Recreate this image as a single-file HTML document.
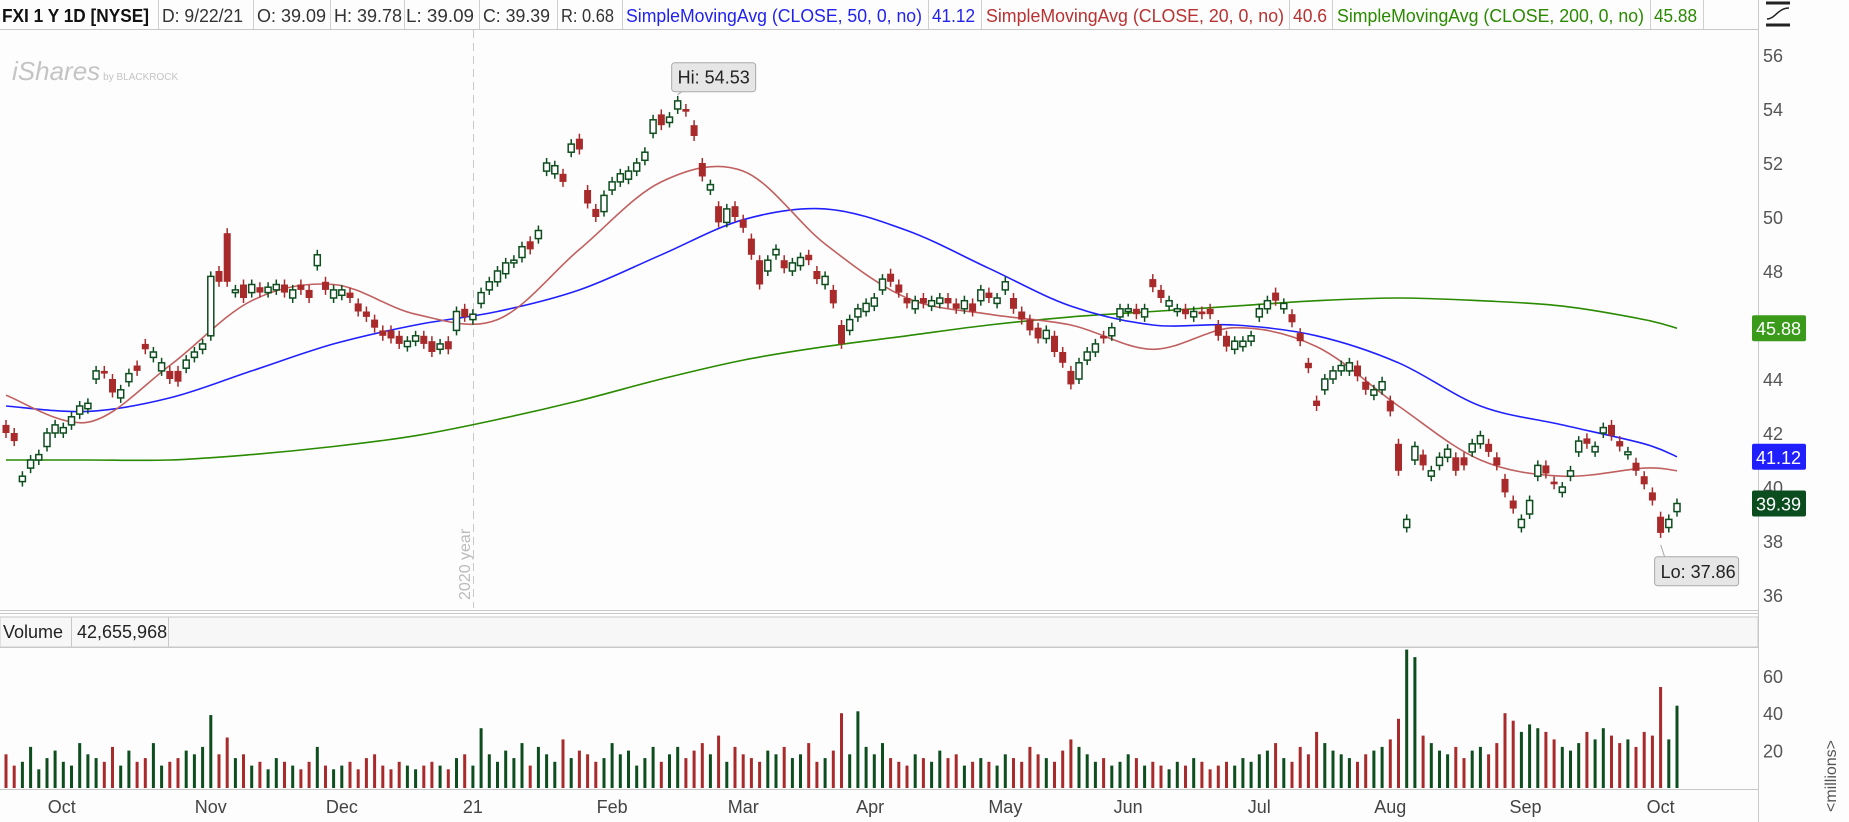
<!DOCTYPE html>
<html><head><meta charset="utf-8"><style>
html,body{margin:0;padding:0;background:#fdfdfd;}
svg{display:block;font-family:"Liberation Sans",sans-serif;}
</style></head><body>
<svg id="chart" width="1849" height="822" viewBox="0 0 1849 822" xmlns="http://www.w3.org/2000/svg">
<rect x="0" y="0" width="1849" height="822" fill="#fdfdfd"/>
<g id="header" font-size="18" lengthAdjust="spacingAndGlyphs">
  <text x="2" y="22" font-weight="bold" fill="#111" textLength="147" lengthAdjust="spacingAndGlyphs">FXI 1 Y 1D [NYSE]</text>
  <text x="162" y="22" fill="#333" textLength="81" lengthAdjust="spacingAndGlyphs">D: 9/22/21</text>
  <text x="257" y="22" fill="#333" textLength="69" lengthAdjust="spacingAndGlyphs">O: 39.09</text>
  <text x="334" y="22" fill="#333" textLength="68" lengthAdjust="spacingAndGlyphs">H: 39.78</text>
  <text x="406" y="22" fill="#333" textLength="68" lengthAdjust="spacingAndGlyphs">L: 39.09</text>
  <text x="483" y="22" fill="#333" textLength="67" lengthAdjust="spacingAndGlyphs">C: 39.39</text>
  <text x="561" y="22" fill="#333" textLength="53" lengthAdjust="spacingAndGlyphs">R: 0.68</text>
  <text x="626" y="22" fill="#2222ee" textLength="296" lengthAdjust="spacingAndGlyphs">SimpleMovingAvg (CLOSE, 50, 0, no)</text>
  <text x="932" y="22" fill="#2222ee" textLength="43" lengthAdjust="spacingAndGlyphs">41.12</text>
  <text x="986" y="22" fill="#b83232" textLength="298" lengthAdjust="spacingAndGlyphs">SimpleMovingAvg (CLOSE, 20, 0, no)</text>
  <text x="1293" y="22" fill="#b83232" textLength="34" lengthAdjust="spacingAndGlyphs">40.6</text>
  <text x="1337" y="22" fill="#2a8a00" textLength="307" lengthAdjust="spacingAndGlyphs">SimpleMovingAvg (CLOSE, 200, 0, no)</text>
  <text x="1654" y="22" fill="#2a8a00" textLength="43" lengthAdjust="spacingAndGlyphs">45.88</text>
  <line x1="0" y1="29.5" x2="1758" y2="29.5" stroke="#c8c8c8"/>
  <g stroke="#d0d0d0">
    <line x1="158.5" y1="0" x2="158.5" y2="29"/><line x1="253.5" y1="0" x2="253.5" y2="29"/>
    <line x1="330.5" y1="0" x2="330.5" y2="29"/><line x1="404.5" y1="0" x2="404.5" y2="29"/>
    <line x1="479.5" y1="0" x2="479.5" y2="29"/><line x1="557.5" y1="0" x2="557.5" y2="29"/>
    <line x1="622.5" y1="0" x2="622.5" y2="29"/><line x1="928.5" y1="0" x2="928.5" y2="29"/>
    <line x1="981.5" y1="0" x2="981.5" y2="29"/><line x1="1289.5" y1="0" x2="1289.5" y2="29"/>
    <line x1="1332.5" y1="0" x2="1332.5" y2="29"/><line x1="1650.5" y1="0" x2="1650.5" y2="29"/>
    <line x1="1703.5" y1="0" x2="1703.5" y2="29"/>
  </g>
  <g stroke="#222" stroke-width="3" fill="none">
    <line x1="1766" y1="3" x2="1790" y2="3"/><line x1="1766" y1="25" x2="1790" y2="25"/>
    <path d="M1767 19 C1775 19,1778 8,1789 8" stroke-width="1.5"/>
  </g>
</g>
<text x="12" y="80" font-size="26" fill="#c4c4c4" font-style="italic">iShares<tspan font-size="10" font-style="normal" dx="3">by BLACKROCK</tspan></text>
<line x1="1758.5" y1="0" x2="1758.5" y2="822" stroke="#c8c8c8"/>
<line x1="473.5" y1="30" x2="473.5" y2="608" stroke="#c8c8c8" stroke-dasharray="8,5"/>
<text transform="translate(470,600) rotate(-90)" font-size="16" fill="#bbb">2020 year</text>
<g stroke="#c8c8c8">
  <line x1="0" y1="610.5" x2="1758" y2="610.5"/><line x1="0" y1="613.5" x2="1758" y2="613.5"/>
  <rect x="0" y="617" width="1758" height="30" fill="#f7f7f7"/>
  <line x1="0" y1="647.5" x2="1758" y2="647.5"/>
  <line x1="0" y1="789.5" x2="1758" y2="789.5"/>
</g>
<text x="3" y="638" font-size="18" fill="#222">Volume</text>
<line x1="71.5" y1="617" x2="71.5" y2="647" stroke="#c8c8c8"/>
<text x="77" y="638" font-size="18" fill="#222">42,655,968</text>
<line x1="168.5" y1="617" x2="168.5" y2="647" stroke="#c8c8c8"/>
<text transform="translate(1836,812) rotate(-90)" font-size="16" fill="#555">&lt;millions&gt;</text>
<g id="axes"></g>
<g id="smas"></g>
<g id="vols"></g>
<g id="candles"></g>
<g id="badges"></g>
</svg>
<script>
const closes=[42.0,41.7,40.4,41.0,41.2,42.0,42.3,42.2,42.6,43.0,
43.1,44.3,44.2,43.5,43.6,44.2,44.3,45.1,45.0,44.6,
44.0,43.9,44.7,45.0,45.3,47.8,47.6,47.6,47.3,47.0,
47.5,47.2,47.4,47.5,47.2,47.3,47.3,47.0,48.6,47.3,
47.3,47.3,47.0,46.5,46.3,45.9,45.6,45.5,45.3,45.4,
45.6,45.3,45.0,45.3,45.1,46.5,46.3,46.4,47.2,47.6,
48.0,48.3,48.4,48.9,48.8,49.5,52.0,51.9,51.3,52.7,
52.5,50.5,50.0,50.8,51.3,51.6,51.7,52.0,52.4,53.6,
53.4,53.7,54.3,53.9,53.0,51.5,51.2,49.8,50.3,50.0,
49.6,48.6,47.5,48.4,48.8,48.1,48.3,48.5,48.4,47.7,
47.8,46.8,45.3,46.2,46.6,46.8,47.0,47.7,47.6,47.2,
46.8,46.9,46.8,46.9,47.0,46.8,46.6,46.9,46.5,47.3,
47.0,47.0,47.6,46.6,46.2,45.8,45.5,45.8,45.0,44.6,
43.8,44.6,45.0,45.3,45.5,45.9,46.6,46.6,46.4,46.6,
47.4,47.0,46.9,46.6,46.4,46.5,46.4,46.4,45.6,45.2,
45.4,45.4,45.6,46.6,46.9,46.9,46.8,46.1,45.4,44.4,
43.0,44.0,44.3,44.5,44.6,44.1,43.6,43.6,43.9,42.8,
40.6,38.8,41.5,40.8,40.6,41.1,41.4,40.6,40.8,41.6,
41.9,41.3,40.8,39.8,39.2,38.8,39.5,40.8,40.5,40.1,
40.0,40.6,41.7,41.6,41.5,42.2,41.9,41.5,41.3,40.6,
40.1,39.5,38.3,38.8,39.39];
const opens=[42.3,42.0,40.2,40.7,41.0,41.5,42.0,42.0,42.3,42.7,
42.9,44.0,44.3,44.0,43.3,43.9,44.5,45.3,44.8,44.3,
44.3,44.3,44.4,44.8,45.1,45.6,48.0,49.4,47.2,47.5,
47.2,47.4,47.2,47.3,47.5,47.0,47.5,47.3,48.2,47.6,
47.0,47.1,47.2,46.8,46.5,46.2,45.8,45.8,45.6,45.2,
45.4,45.6,45.4,45.1,45.4,45.8,46.6,46.2,46.8,47.3,
47.6,47.9,48.3,48.5,49.1,49.2,51.7,51.6,51.6,52.4,
52.9,51.0,50.3,50.2,51.0,51.3,51.4,51.7,52.1,53.1,
53.8,53.5,54.0,54.0,53.4,52.0,51.0,50.4,49.8,50.4,
49.9,49.2,48.4,48.0,48.6,48.4,48.0,48.2,48.6,48.0,
47.5,47.3,46.0,45.8,46.3,46.5,46.7,47.3,47.9,47.5,
47.0,46.6,47.0,46.7,46.8,47.0,46.8,46.6,46.8,46.9,
47.2,46.8,47.3,47.0,46.5,46.2,45.9,45.5,45.6,45.0,
44.3,44.0,44.7,45.0,45.6,45.6,46.3,46.5,46.6,46.3,
47.7,47.3,46.7,46.5,46.6,46.3,46.5,46.6,46.0,45.6,
45.1,45.2,45.4,46.3,46.6,47.2,46.6,46.4,45.7,44.6,
43.2,43.6,44.0,44.3,44.3,44.5,43.9,43.4,43.6,43.2,
41.6,38.5,41.0,41.2,40.4,40.8,41.1,41.1,41.1,41.3,
41.6,41.6,41.1,40.3,39.5,38.5,39.0,40.4,40.8,40.2,
39.8,40.4,41.3,41.8,41.3,42.0,42.3,41.7,41.2,40.9,
40.4,39.8,38.9,38.5,39.09];
const volumes=[18,12,14,22,10,16,20,14,12,24,
18,16,14,22,12,20,14,16,24,12,
14,16,20,18,22,39,18,27,16,18,
12,14,10,16,14,12,10,14,22,12,
10,12,14,10,16,18,12,10,14,12,
10,12,14,12,10,16,18,12,32,18,
14,20,16,24,12,22,18,14,26,16,
20,18,14,16,24,18,20,12,16,22,
14,18,22,16,20,24,18,28,14,22,
18,16,14,20,18,22,16,18,24,14,
16,20,40,18,41,22,18,24,16,14,
12,18,16,14,20,16,18,12,14,16,
14,12,18,16,14,22,18,16,14,20,
26,22,18,14,16,12,14,18,16,12,
14,12,10,14,12,16,14,10,12,14,
12,16,14,18,20,24,16,14,22,18,
30,24,20,18,16,14,18,20,22,26,
37,74,70,28,24,20,18,22,16,20,
22,18,24,40,36,30,34,32,30,26,
22,20,24,30,26,32,28,24,26,22,
30,28,54,26,44];
const smaIndex=[0,10,20,30,40,50,60,70,80,90,100,110,120,130,140,150,160,170,180,190,200,204];
const sma20=[43.4,42.4,44.5,46.9,47.5,46.4,46.2,48.8,51.3,51.7,49.0,47.0,46.4,46.0,45.1,45.9,45.2,43.0,41.0,40.4,40.7,40.6];
const sma50=[43.0,42.8,43.3,44.3,45.3,46.0,46.5,47.3,48.6,49.9,50.3,49.5,48.1,46.7,46.0,46.0,45.6,44.6,43.0,42.3,41.6,41.12];
const sma200=[41.0,41.0,41.0,41.2,41.5,41.9,42.5,43.2,44.0,44.7,45.2,45.6,46.0,46.3,46.5,46.7,46.9,47.0,46.9,46.7,46.2,45.88];
const priceTicks=[36,38,40,42,44,46,48,50,52,54,56];
const volTicks=[20,40,60];
const monthLabels=["Oct","Nov","Dec","21","Feb","Mar","Apr","May","Jun","Jul","Aug","Sep","Oct"];
const monthIndex=[6.8,25,41,57,74,90,105.5,122,137,153,169,185.5,202];
const hiValue=54.53, loValue=37.86;

const NS="http://www.w3.org/2000/svg";
const N=closes.length;
const xS=i=>6+i*(1671/(N-1));
const yP=p=>55+(56-p)*27;
const yV=v=>788-v*1.87;
function mk(tag,attrs,parent){const e=document.createElementNS(NS,tag);for(const k in attrs)e.setAttribute(k,attrs[k]);parent.appendChild(e);return e;}
const G=id=>document.getElementById(id);
const GREEN="#0d4d1e",RED="#a82a2a";

const ax=G('axes');
priceTicks.forEach(p=>{const t=mk('text',{x:1763,y:yP(p)+7,'font-size':18,fill:'#555'},ax);t.textContent=p;

});
volTicks.forEach(v=>{const t=mk('text',{x:1763,y:yV(v)+7,'font-size':18,fill:'#555'},ax);t.textContent=v;

});
monthLabels.forEach((m,k)=>{const t=mk('text',{x:xS(monthIndex[k]),y:813,'font-size':18,fill:'#444','text-anchor':'middle'},ax);t.textContent=m;

});

function smooth(pts){let d='M'+pts[0][0].toFixed(1)+' '+pts[0][1].toFixed(1);
  for(let k=0;k<pts.length-1;k++){const p0=pts[Math.max(0,k-1)],p1=pts[k],p2=pts[k+1],p3=pts[Math.min(pts.length-1,k+2)];
    const c1x=p1[0]+(p2[0]-p0[0])/6,c1y=p1[1]+(p2[1]-p0[1])/6,c2x=p2[0]-(p3[0]-p1[0])/6,c2y=p2[1]-(p3[1]-p1[1])/6;
    d+=' C'+c1x.toFixed(1)+' '+c1y.toFixed(1)+','+c2x.toFixed(1)+' '+c2y.toFixed(1)+','+p2[0].toFixed(1)+' '+p2[1].toFixed(1);}
  return d;}
const sg=G('smas');
[[sma200,'#2a8a00','sma200-line'],[sma50,'#2020ff','sma50-line'],[sma20,'#c06060','sma20-line']].forEach(([arr,c,n])=>{
  const pts=arr.map((v,k)=>[xS(smaIndex[k]),yP(v)]);
  const p=mk('path',{d:smooth(pts),fill:'none',stroke:c,'stroke-width':1.6,'stroke-linejoin':'round'},sg);
  
  
});

const vg=G('vols'),cg=G('candles');
for(let i=0;i<N;i++){
  const up=closes[i]>=opens[i];const col=up?GREEN:RED;const x=xS(i);
  const b=mk('rect',{x:(x-1.5).toFixed(1),y:yV(volumes[i]).toFixed(1),width:3,height:(volumes[i]*1.87).toFixed(1),fill:col},vg);
  
  
  const top=Math.max(opens[i],closes[i]),bot=Math.min(opens[i],closes[i]);
  const g=mk('g',{},cg);
  
  
  mk('line',{x1:x.toFixed(1),x2:x.toFixed(1),y1:(yP(top)-5).toFixed(1),y2:(yP(bot)+5).toFixed(1),stroke:col,'stroke-width':1.5},g);
  const h=Math.max(2,yP(bot)-yP(top));
  if(up) mk('rect',{x:(x-3).toFixed(1),y:yP(top).toFixed(1),width:6,height:h.toFixed(1),fill:'#fff',stroke:col,'stroke-width':1.5},g);
  else mk('rect',{x:(x-3.5).toFixed(1),y:yP(top).toFixed(1),width:7,height:h.toFixed(1),fill:col},g);
}

const bg=G('badges');
function badge(v,fill,name,label){const y=yP(v);
  const r=mk('rect',{x:1752,y:y-13,width:54,height:26,rx:2,fill:fill},bg);
  
  
  const t=mk('text',{x:1756,y:y+7,'font-size':18,fill:'#fff'},bg);t.textContent=label;}
badge(sma200[sma200.length-1],'#3a9a1a','sma200-badge',sma200[sma200.length-1].toFixed(2));
badge(sma50[sma50.length-1],'#1f1fff','sma50-badge',sma50[sma50.length-1].toFixed(2));
badge(closes[N-1],'#0b4d1f','close-badge',closes[N-1].toFixed(2));
function callout(i,v,above,name){
  const x=xS(i),y=yP(v);const bx=x-6,by=above?y-32:y+12;
  const r=mk('rect',{x:bx,y:by,width:84,height:29,rx:3,fill:'#e6e6e6',stroke:'#aaa'},bg);
  
  
  mk('line',{x1:x,y1:y,x2:x+4,y2:above?by+29:by,stroke:'#aaa'},bg);
  const t=mk('text',{x:bx+6,y:by+21,'font-size':18,fill:'#222'},bg);t.textContent=(above?'Hi: ':'Lo: ')+v.toFixed(2);}
callout(82,hiValue,true,'high-callout');
callout(202,loValue,false,'low-callout');
</script>
</body></html>
